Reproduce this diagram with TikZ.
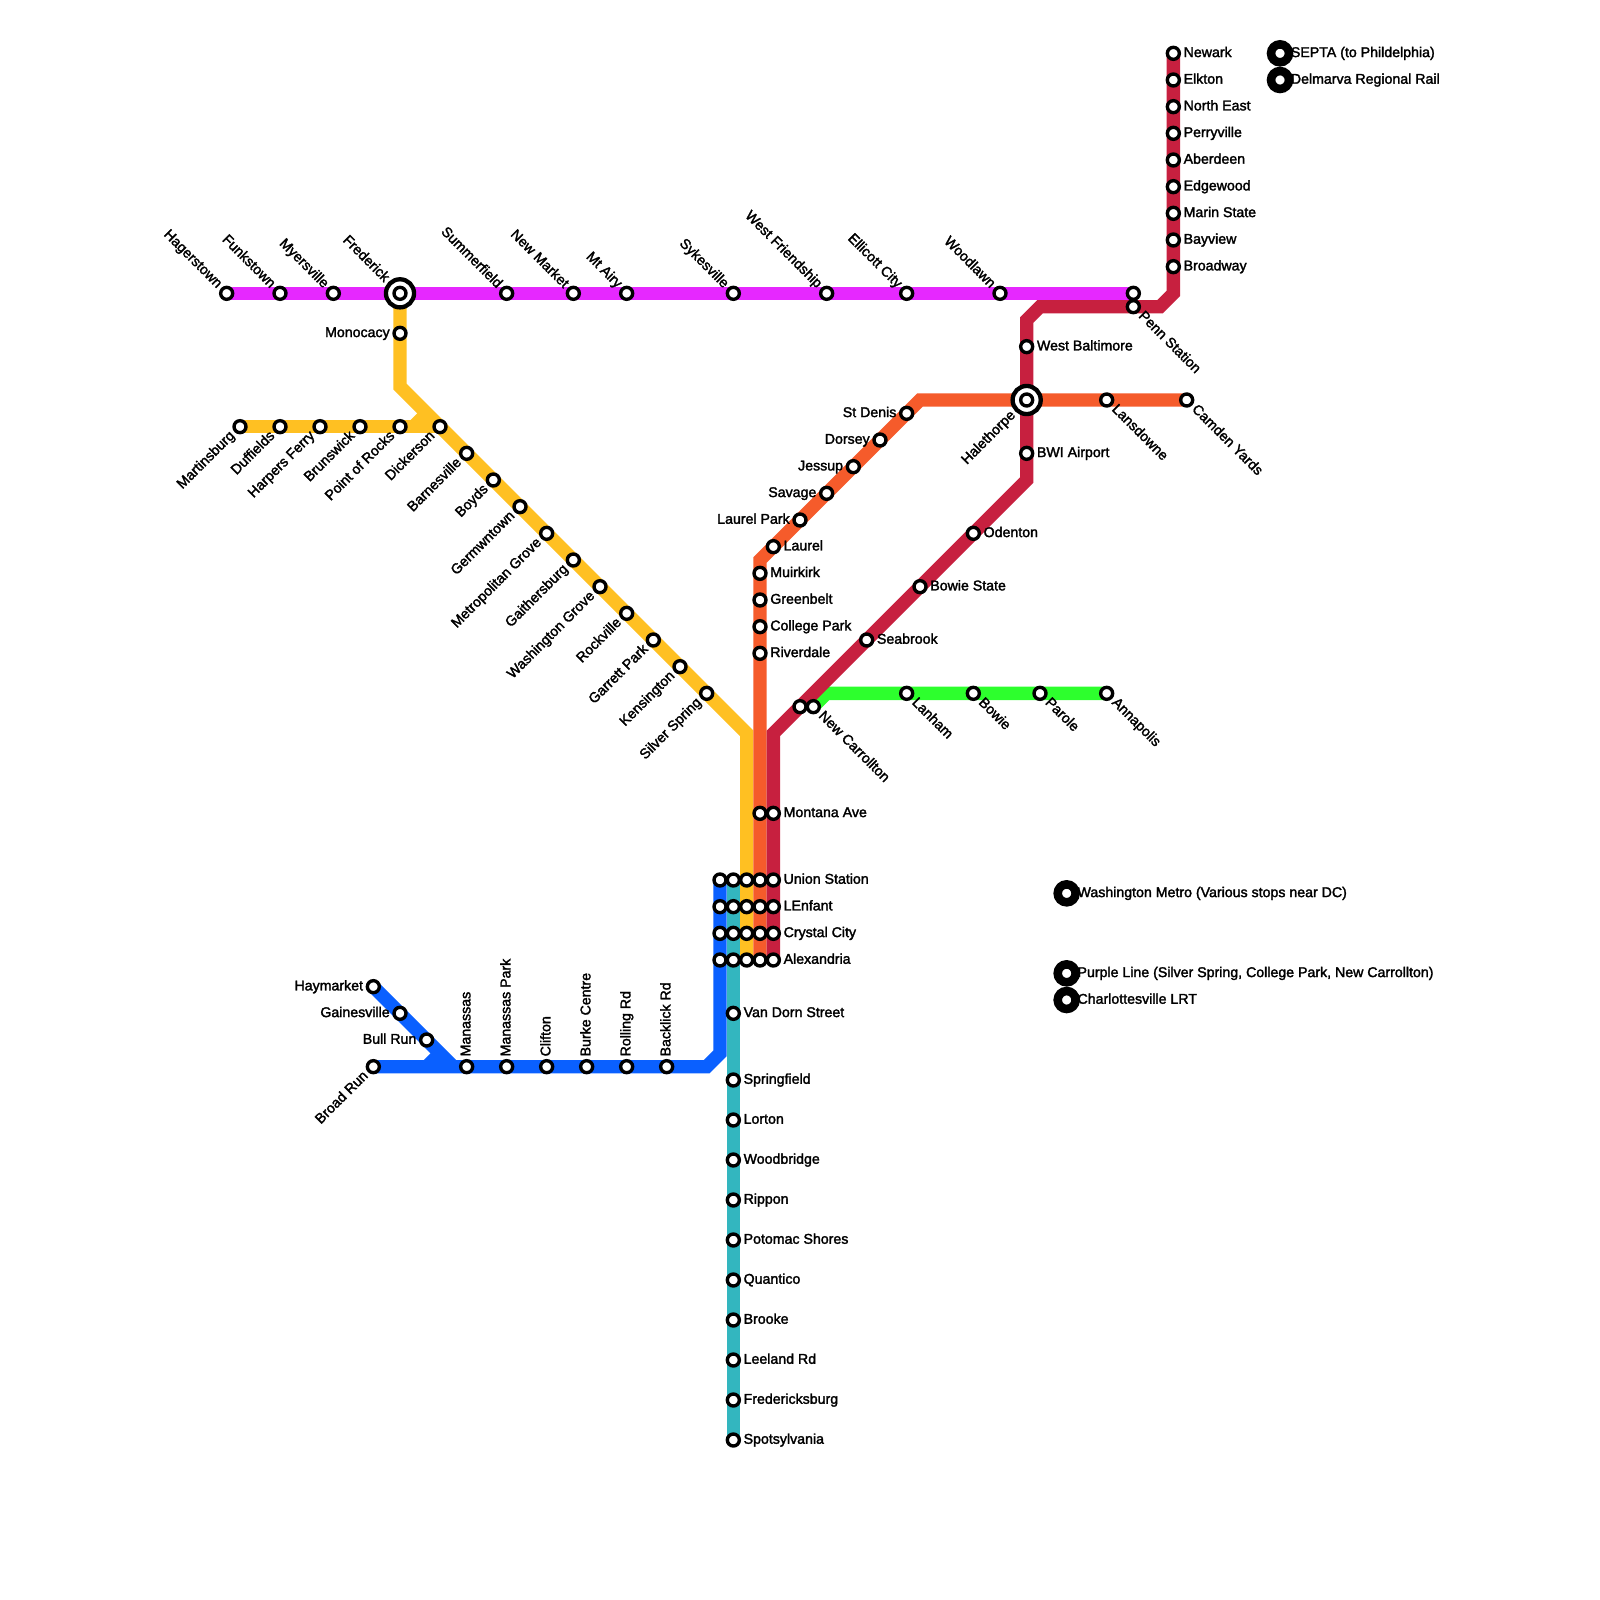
\documentclass[tikz,border=0pt]{standalone}
\usepackage{fontspec}
\setmainfont[FakeBold=2]{Liberation Sans}
\usepackage{xcolor}
\usepackage{tikz}
\usetikzlibrary{backgrounds}
\definecolor{linePurple}{HTML}{E628FF}
\definecolor{lineYellow}{HTML}{FFC022}
\definecolor{lineOrange}{HTML}{F55B2B}
\definecolor{lineRed}{HTML}{C7203F}
\definecolor{lineGreen}{HTML}{2DFF2D}
\definecolor{lineBlue}{HTML}{0A60FF}
\definecolor{lineTeal}{HTML}{33B6BF}
\tikzset{
    station/.style={
        circle,
        draw,
        fill=white,
        line width=1.8pt,
        minimum size=6.4pt,
        inner sep=0pt
    },
    ringStop/.style={station, line width=2.3pt, minimum size=15pt},
    bigStop/.style={station, line width=4.57pt, minimum size=9.57pt},
    route/.style={line width=0.25cm, line join=miter},
    stopText/.style={
        font=\fontsize{7.56pt}{9pt}\selectfont,
        text height=5.5pt,
        text depth=1.5pt,
        inner sep=1.2pt
    },
    txtRight/.style={stopText, anchor=west},
    txtLeft/.style={stopText, anchor=east},
    txtUpLeft/.style={stopText, anchor=east, rotate=-45},
    txtDownLeft/.style={stopText, anchor=east, rotate=45},
    txtDownRight/.style={stopText, anchor=west, rotate=-45},
    txtUp/.style={stopText, anchor=west, rotate=90},
    txtKey/.style={stopText, anchor=west, inner sep=0pt, xshift=5.6pt}
}

\begin{document}
\begin{tikzpicture}[x=0.25cm, y=-0.25cm]
    \useasboundingbox (0,0) rectangle (120,120);

    \node[station] (hagerstown) at (17,22) {};
    \node[station] (funkstown) at (21,22) {};
    \node[station] (myersville) at (25,22) {};
    \node[ringStop] (frederickRing) at (30,22) {};
    \node[station] (frederick) at (30,22) {};
    \node[station] (summerfield) at (38,22) {};
    \node[station] (newMarket) at (43,22) {};
    \node[station] (mtAiry) at (47,22) {};
    \node[station] (sykesville) at (55,22) {};
    \node[station] (westFriendship) at (62,22) {};
    \node[station] (ellicottCity) at (68,22) {};
    \node[station] (woodlawn) at (75,22) {};
    \node[station] (pennTop) at (85,22) {};
    \node[station] (penn) at (85,23) {};

    \node[station] (monocacy) at (30,25) {};
    \node[station] (martinsburg) at (18,32) {};
    \node[station] (duffields) at (21,32) {};
    \node[station] (harpersFerry) at (24,32) {};
    \node[station] (brunswick) at (27,32) {};
    \node[station] (pointRocks) at (30,32) {};
    \node[station] (dickerson) at (33,32) {};
    \node[station] (barnesville) at (35,34) {};
    \node[station] (boyds) at (37,36) {};
    \node[station] (germantown) at (39,38) {};
    \node[station] (metroGrove) at (41,40) {};
    \node[station] (gaithersburg) at (43,42) {};
    \node[station] (washGrove) at (45,44) {};
    \node[station] (rockville) at (47,46) {};
    \node[station] (garrettPark) at (49,48) {};
    \node[station] (kensington) at (51,50) {};
    \node[station] (silverSpring) at (53,52) {};

    \node[station] (newark) at (88,4) {};
    \node[station] (elkton) at (88,6) {};
    \node[station] (northEast) at (88,8) {};
    \node[station] (perryville) at (88,10) {};
    \node[station] (aberdeen) at (88,12) {};
    \node[station] (edgewood) at (88,14) {};
    \node[station] (marinState) at (88,16) {};
    \node[station] (bayview) at (88,18) {};
    \node[station] (broadway) at (88,20) {};
    \node[station] (westBaltimore) at (77,26) {};
    \node[ringStop] (halethorpeRing) at (77,30) {};
    \node[station] (halethorpe) at (77,30) {};
    \node[station] (bwiAirport) at (77,34) {};
    \node[station] (odenton) at (73,40) {};
    \node[station] (bowieState) at (69,44) {};
    \node[station] (seabrook) at (65,48) {};
    \node[station] (carrolltonRed) at (60,53) {};

    \node[station] (camdenYards) at (89,30) {};
    \node[station] (lansdowne) at (83,30) {};
    \node[station] (stDenis) at (68,31) {};
    \node[station] (dorsey) at (66,33) {};
    \node[station] (jessup) at (64,35) {};
    \node[station] (savage) at (62,37) {};
    \node[station] (laurelPark) at (60,39) {};
    \node[station] (laurel) at (58,41) {};
    \node[station] (muirkirk) at (57,43) {};
    \node[station] (greenbelt) at (57,45) {};
    \node[station] (collegePark) at (57,47) {};
    \node[station] (riverdale) at (57,49) {};

    \node[station] (carrollton) at (61,53) {};
    \node[station] (lanham) at (68,52) {};
    \node[station] (bowie) at (73,52) {};
    \node[station] (parole) at (78,52) {};
    \node[station] (annapolis) at (83,52) {};

    \node[station] (montanaO) at (57,61) {};
    \node[station] (montanaR) at (58,61) {};

    \node[station] (unionB) at (54,66) {};
    \node[station] (unionT) at (55,66) {};
    \node[station] (unionY) at (56,66) {};
    \node[station] (unionO) at (57,66) {};
    \node[station] (unionR) at (58,66) {};
    \node[station] (enfantB) at (54,68) {};
    \node[station] (enfantT) at (55,68) {};
    \node[station] (enfantY) at (56,68) {};
    \node[station] (enfantO) at (57,68) {};
    \node[station] (enfantR) at (58,68) {};
    \node[station] (crystalB) at (54,70) {};
    \node[station] (crystalT) at (55,70) {};
    \node[station] (crystalY) at (56,70) {};
    \node[station] (crystalO) at (57,70) {};
    \node[station] (crystalR) at (58,70) {};
    \node[station] (alexB) at (54,72) {};
    \node[station] (alexT) at (55,72) {};
    \node[station] (alexY) at (56,72) {};
    \node[station] (alexO) at (57,72) {};
    \node[station] (alexR) at (58,72) {};

    \node[station] (vanDorn) at (55,76) {};
    \node[station] (springfield) at (55,81) {};
    \node[station] (lorton) at (55,84) {};
    \node[station] (woodbridge) at (55,87) {};
    \node[station] (rippon) at (55,90) {};
    \node[station] (potomacShores) at (55,93) {};
    \node[station] (quantico) at (55,96) {};
    \node[station] (brooke) at (55,99) {};
    \node[station] (leelandRd) at (55,102) {};
    \node[station] (fredericksburg) at (55,105) {};
    \node[station] (spotsylvania) at (55,108) {};

    \node[station] (haymarket) at (28,74) {};
    \node[station] (gainesville) at (30,76) {};
    \node[station] (bullRun) at (32,78) {};
    \node[station] (broadRun) at (28,80) {};
    \node[station] (manassas) at (35,80) {};
    \node[station] (manassasPark) at (38,80) {};
    \node[station] (clifton) at (41,80) {};
    \node[station] (burkeCentre) at (44,80) {};
    \node[station] (rollingRd) at (47,80) {};
    \node[station] (backlickRd) at (50,80) {};

    \node[bigStop] (septa) at (96,4) {};
    \node[bigStop] (delmarva) at (96,6) {};
    \node[bigStop] (washMetro) at (80,67) {};
    \node[bigStop] (purpleLine) at (80,73) {};
    \node[bigStop] (charlottesville) at (80,75) {};

    \coordinate (yellowA) at (56,55);
    \coordinate (yellowB) at (30,29);
    \coordinate (yellowC) at (31,32);
    \coordinate (yellowD) at (32,31);
    \coordinate (redA) at (88,22);
    \coordinate (redB) at (87,23);
    \coordinate (redC) at (78,23);
    \coordinate (redD) at (77,24);
    \coordinate (redE) at (77,36);
    \coordinate (redF) at (58,55);
    \coordinate (orangeA) at (69,30);
    \coordinate (orangeB) at (57,42);
    \coordinate (greenA) at (62,52);
    \coordinate (blueA) at (54,79);
    \coordinate (blueB) at (53,80);
    \coordinate (blueC) at (34,80);
    \coordinate (blueD) at (32,80);
    \coordinate (blueE) at (33,79);

    \begin{scope}[on background layer]
        \draw[route, lineGreen] (carrollton.center) -- (greenA) -- (annapolis.center);
        \draw[route, lineBlue] (unionB.center) -- (blueA) -- (blueB) -- (broadRun.center);
        \draw[route, lineBlue] (haymarket.center) -- (blueC);
        \draw[route, lineBlue] (blueD) -- (blueE);
        \draw[route, lineTeal] (unionT.center) -- (spotsylvania.center);
        \draw[route, lineYellow] (alexY.center) -- (yellowA) -- (yellowB) -- (frederick.center);
        \draw[route, lineYellow] (martinsburg.center) -- (dickerson.center);
        \draw[route, lineYellow] (yellowC) -- (yellowD);
        \draw[route, lineOrange] (camdenYards.center) -- (orangeA) -- (orangeB) -- (alexO.center);
        \draw[route, lineRed] (newark.center) -- (redA) -- (redB) -- (redC) -- (redD) -- (redE) -- (redF) -- (alexR.center);
        \draw[route, linePurple] (hagerstown.center) -- (pennTop.center);
    \end{scope}

    \node[txtUpLeft] (hagerstownTxt) at (hagerstown.north west) {Hagerstown};
    \node[txtUpLeft] (funkstownTxt) at (funkstown.north west) {Funkstown};
    \node[txtUpLeft] (myersvilleTxt) at (myersville.north west) {Myersville};
    \node[txtUpLeft] (frederickTxt) at (frederickRing.north west) {Frederick};
    \node[txtUpLeft] (summerfieldTxt) at (summerfield.north west) {Summerfield};
    \node[txtUpLeft] (newMarketTxt) at (newMarket.north west) {New Market};
    \node[txtUpLeft] (mtAiryTxt) at (mtAiry.north west) {Mt Airy};
    \node[txtUpLeft] (sykesvilleTxt) at (sykesville.north west) {Sykesville};
    \node[txtUpLeft] (westFriendshipTxt) at (westFriendship.north west) {West Friendship};
    \node[txtUpLeft] (ellicottCityTxt) at (ellicottCity.north west) {Ellicott City};
    \node[txtUpLeft] (woodlawnTxt) at (woodlawn.north west) {Woodlawn};
    \node[txtDownRight] (pennTxt) at (penn.south east) {Penn Station};

    \node[txtLeft] (monocacyTxt) at (monocacy.west) {Monocacy};
    \node[txtDownLeft] (martinsburgTxt) at (martinsburg.south west) {Martinsburg};
    \node[txtDownLeft] (duffieldsTxt) at (duffields.south west) {Duffields};
    \node[txtDownLeft] (harpersFerryTxt) at (harpersFerry.south west) {Harpers Ferry};
    \node[txtDownLeft] (brunswickTxt) at (brunswick.south west) {Brunswick};
    \node[txtDownLeft] (pointRocksTxt) at (pointRocks.south west) {Point of Rocks};
    \node[txtDownLeft] (dickersonTxt) at (dickerson.south west) {Dickerson};
    \node[txtDownLeft] (barnesvilleTxt) at (barnesville.south west) {Barnesville};
    \node[txtDownLeft] (boydsTxt) at (boyds.south west) {Boyds};
    \node[txtDownLeft] (germantownTxt) at (germantown.south west) {Germwntown};
    \node[txtDownLeft] (metroGroveTxt) at (metroGrove.south west) {Metropolitan Grove};
    \node[txtDownLeft] (gaithersburgTxt) at (gaithersburg.south west) {Gaithersburg};
    \node[txtDownLeft] (washGroveTxt) at (washGrove.south west) {Washington Grove};
    \node[txtDownLeft] (rockvilleTxt) at (rockville.south west) {Rockville};
    \node[txtDownLeft] (garrettParkTxt) at (garrettPark.south west) {Garrett Park};
    \node[txtDownLeft] (kensingtonTxt) at (kensington.south west) {Kensington};
    \node[txtDownLeft] (silverSpringTxt) at (silverSpring.south west) {Silver Spring};

    \node[txtRight] (newarkTxt) at (newark.east) {Newark};
    \node[txtRight] (elktonTxt) at (elkton.east) {Elkton};
    \node[txtRight] (northEastTxt) at (northEast.east) {North East};
    \node[txtRight] (perryvilleTxt) at (perryville.east) {Perryville};
    \node[txtRight] (aberdeenTxt) at (aberdeen.east) {Aberdeen};
    \node[txtRight] (edgewoodTxt) at (edgewood.east) {Edgewood};
    \node[txtRight] (marinStateTxt) at (marinState.east) {Marin State};
    \node[txtRight] (bayviewTxt) at (bayview.east) {Bayview};
    \node[txtRight] (broadwayTxt) at (broadway.east) {Broadway};
    \node[txtRight] (westBaltimoreTxt) at (westBaltimore.east) {West Baltimore};
    \node[txtDownLeft] (halethorpeTxt) at (halethorpeRing.south west) {Halethorpe};
    \node[txtRight] (bwiAirportTxt) at (bwiAirport.east) {BWI Airport};
    \node[txtRight] (odentonTxt) at (odenton.east) {Odenton};
    \node[txtRight] (bowieStateTxt) at (bowieState.east) {Bowie State};
    \node[txtRight] (seabrookTxt) at (seabrook.east) {Seabrook};

    \node[txtDownRight] (camdenYardsTxt) at (camdenYards.south east) {Camden Yards};
    \node[txtDownRight] (lansdowneTxt) at (lansdowne.south east) {Lansdowne};
    \node[txtLeft] (stDenisTxt) at (stDenis.west) {St Denis};
    \node[txtLeft] (dorseyTxt) at (dorsey.west) {Dorsey};
    \node[txtLeft] (jessupTxt) at (jessup.west) {Jessup};
    \node[txtLeft] (savageTxt) at (savage.west) {Savage};
    \node[txtLeft] (laurelParkTxt) at (laurelPark.west) {Laurel Park};
    \node[txtRight] (laurelTxt) at (laurel.east) {Laurel};
    \node[txtRight] (muirkirkTxt) at (muirkirk.east) {Muirkirk};
    \node[txtRight] (greenbeltTxt) at (greenbelt.east) {Greenbelt};
    \node[txtRight] (collegeParkTxt) at (collegePark.east) {College Park};
    \node[txtRight] (riverdaleTxt) at (riverdale.east) {Riverdale};

    \node[txtDownRight] (carrolltonTxt) at (carrollton.south east) {New Carrollton};
    \node[txtDownRight] (lanhamTxt) at (lanham.south east) {Lanham};
    \node[txtDownRight] (bowieTxt) at (bowie.south east) {Bowie};
    \node[txtDownRight] (paroleTxt) at (parole.south east) {Parole};
    \node[txtDownRight] (annapolisTxt) at (annapolis.south east) {Annapolis};

    \node[txtRight] (montanaTxt) at (montanaR.east) {Montana Ave};
    \node[txtRight] (unionTxt) at (unionR.east) {Union Station};
    \node[txtRight] (enfantTxt) at (enfantR.east) {LEnfant};
    \node[txtRight] (crystalTxt) at (crystalR.east) {Crystal City};
    \node[txtRight] (alexTxt) at (alexR.east) {Alexandria};

    \node[txtRight] (vanDornTxt) at (vanDorn.east) {Van Dorn Street};
    \node[txtRight] (springfieldTxt) at (springfield.east) {Springfield};
    \node[txtRight] (lortonTxt) at (lorton.east) {Lorton};
    \node[txtRight] (woodbridgeTxt) at (woodbridge.east) {Woodbridge};
    \node[txtRight] (ripponTxt) at (rippon.east) {Rippon};
    \node[txtRight] (potomacShoresTxt) at (potomacShores.east) {Potomac Shores};
    \node[txtRight] (quanticoTxt) at (quantico.east) {Quantico};
    \node[txtRight] (brookeTxt) at (brooke.east) {Brooke};
    \node[txtRight] (leelandRdTxt) at (leelandRd.east) {Leeland Rd};
    \node[txtRight] (fredericksburgTxt) at (fredericksburg.east) {Fredericksburg};
    \node[txtRight] (spotsylvaniaTxt) at (spotsylvania.east) {Spotsylvania};

    \node[txtLeft] (haymarketTxt) at (haymarket.west) {Haymarket};
    \node[txtLeft] (gainesvilleTxt) at (gainesville.west) {Gainesville};
    \node[txtLeft] (bullRunTxt) at (bullRun.west) {Bull Run};
    \node[txtDownLeft] (broadRunTxt) at (broadRun.south west) {Broad Run};
    \node[txtUp] (manassasTxt) at (manassas.north) {Manassas};
    \node[txtUp] (manassasParkTxt) at (manassasPark.north) {Manassas Park};
    \node[txtUp] (cliftonTxt) at (clifton.north) {Clifton};
    \node[txtUp] (burkeCentreTxt) at (burkeCentre.north) {Burke Centre};
    \node[txtUp] (rollingRdTxt) at (rollingRd.north) {Rolling Rd};
    \node[txtUp] (backlickRdTxt) at (backlickRd.north) {Backlick Rd};

    \node[txtKey] (septaTxt) at (septa.center) {SEPTA (to Phildelphia)};
    \node[txtKey] (delmarvaTxt) at (delmarva.center) {Delmarva Regional Rail};
    \node[txtKey] (washMetroTxt) at (washMetro.center) {Washington Metro (Various stops near DC)};
    \node[txtKey] (purpleLineTxt) at (purpleLine.center) {Purple Line (Silver Spring, College Park, New Carrollton)};
    \node[txtKey] (charlottesvilleTxt) at (charlottesville.center) {Charlottesville LRT};
\end{tikzpicture}
\end{document}
